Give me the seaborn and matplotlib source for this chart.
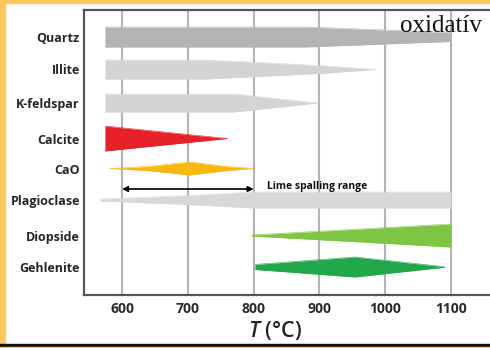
import matplotlib
matplotlib.use("Agg")
import matplotlib.pyplot as plt
from matplotlib.patches import Rectangle
import numpy as np
import pandas as pd
import seaborn as sns

# ---------------- data ----------------
minerals = ["Quartz", "Illite", "K-feldspar", "Calcite", "CaO",
            "Plagioclase", "Diopside", "Gehlenite"]

# temperature knots (°C) and relative abundance (half thickness) per phase
quartz_T = [574, 880, 1100]
quartz_w = [10, 10, 4.5]
illite_T = [574, 730, 900, 985]
illite_w = [9.5, 9.5, 4, 0]
kfeld_T = [574, 770, 898]
kfeld_w = [9, 9, 0]
calcite_T = [574, 760]
calcite_w = [12.5, 0]
cao_T = [582, 638, 703, 760, 800]
cao_w = [0, 2, 6.5, 2, 0]
plag_T = [567, 700, 800, 1100]
plag_w = [1, 4.5, 8, 8]
diop_T = [797, 1100]
diop_w = [0.5, 11.5]
gehl_T = [802, 954, 1090]
gehl_w = [2.5, 10, 0.3]

spalling_range = [600, 800]
spalling_label = "Lime spalling range"
x_ticks = [600, 700, 800, 900, 1000, 1100]
annotation = "oxidatív"

# ---------------- layout / style ----------------
row_pos = [27, 59.5, 93, 128.5, 158.5, 190, 225.5, 257]
arrow_row = 179
colors = ["#b4b4b4", "#d4d4d4", "#d4d4d4", "#e8202a", "#f8b80f",
          "#d8d8d8", "#7ec544", "#22a84a"]

profiles = [(quartz_T, quartz_w), (illite_T, illite_w), (kfeld_T, kfeld_w),
            (calcite_T, calcite_w), (cao_T, cao_w), (plag_T, plag_w),
            (diop_T, diop_w), (gehl_T, gehl_w)]

rows = []
for name, (T, w), c in zip(minerals, profiles, row_pos):
    for t, h in zip(T, w):
        rows.append({"mineral": name, "T": t, "upper": c - h, "lower": c + h})
df = pd.DataFrame(rows)

sns.set_theme(style="white")
plt.rcParams["font.family"] = ["Open Sans", "DejaVu Sans"]
plt.rcParams["mathtext.fontset"] = "custom"
plt.rcParams["mathtext.it"] = "Open Sans:italic:semibold"
plt.rcParams["mathtext.rm"] = "Open Sans"

W, H = 490, 348
fig = plt.figure(figsize=(W / 100, H / 100), dpi=100)
fig.patch.set_facecolor("white")
ax = fig.add_axes([84 / W, 1 - 295 / H, (W - 84) / W, (295 - 10) / H])
ax.set_facecolor("white")

pal = dict(zip(minerals, colors))
sns.lineplot(data=df, x="T", y="upper", hue="mineral", palette=pal,
             estimator=None, sort=False, legend=False, linewidth=0.4, ax=ax, zorder=3)
sns.lineplot(data=df, x="T", y="lower", hue="mineral", palette=pal,
             estimator=None, sort=False, legend=False, linewidth=0.4, ax=ax, zorder=3)
for name in minerals:
    sub = df[df["mineral"] == name]
    ax.fill_between(sub["T"], sub["upper"], sub["lower"], color=pal[name],
                    linewidth=0, zorder=3)

ax.set_xlim(542.2, 1159.3)
ax.set_ylim(285, 0)

ax.set_xticks(x_ticks)
ax.set_xticklabels([str(v) for v in x_ticks], fontsize=10, fontweight="bold",
                   color="#2a2a2a")
ax.grid(axis="x", color="#b4b4b4", linewidth=1.5, zorder=0)
ax.grid(axis="y", visible=False)
ax.set_axisbelow(True)
ax.tick_params(axis="x", length=0, pad=5)

ax.set_yticks(row_pos)
ax.set_yticklabels(minerals, fontsize=9, fontweight="bold", color="#262626")
ax.tick_params(axis="y", length=0, pad=3)
for lbl in ax.get_yticklabels():
    lbl.set_y(lbl.get_position()[1])

for s in ["left", "bottom", "top"]:
    ax.spines[s].set_visible(True)
    ax.spines[s].set_color("#555555")
    ax.spines[s].set_linewidth(1.6)
ax.spines["right"].set_visible(False)

ax.set_ylabel("")
ax.set_xlabel(r"$T$ (°C)", fontsize=15.5, color="#222222", va="center",
              fontweight="semibold")
ax.xaxis.set_label_coords((275 - 84) / (W - 84), -(330 - 295) / (295 - 10))

ax.annotate("", xy=(spalling_range[0], arrow_row), xytext=(spalling_range[1], arrow_row),
            arrowprops=dict(arrowstyle="<|-|>", color="black", lw=1.2,
                            mutation_scale=8, shrinkA=0, shrinkB=0), zorder=5)
ax.text(spalling_range[1] + 20, arrow_row - 2, spalling_label, fontsize=7.5,
        fontweight="bold", color="#111111", va="center", ha="left", zorder=5)

fig.text(400 / W, 1 - 32 / H, annotation, family=["Liberation Serif", "DejaVu Serif"],
         fontsize=18, color="#111111", ha="left", va="baseline")

orange = "#fdc85e"
fig.patches.append(Rectangle((0, 0), 5 / W, 1, transform=fig.transFigure,
                             color=orange, zorder=10))
fig.patches.append(Rectangle((0, 1 - 3 / H), 1, 3 / H, transform=fig.transFigure,
                             color=orange, zorder=10))
fig.patches.append(Rectangle((0, 1 / H), 1, 3.5 / H, transform=fig.transFigure,
                             color="#111111", zorder=10))
fig.patches.append(Rectangle((0, 0), 1, 1 / H, transform=fig.transFigure,
                             color=orange, zorder=10))

fig.savefig("out.png", dpi=100)
